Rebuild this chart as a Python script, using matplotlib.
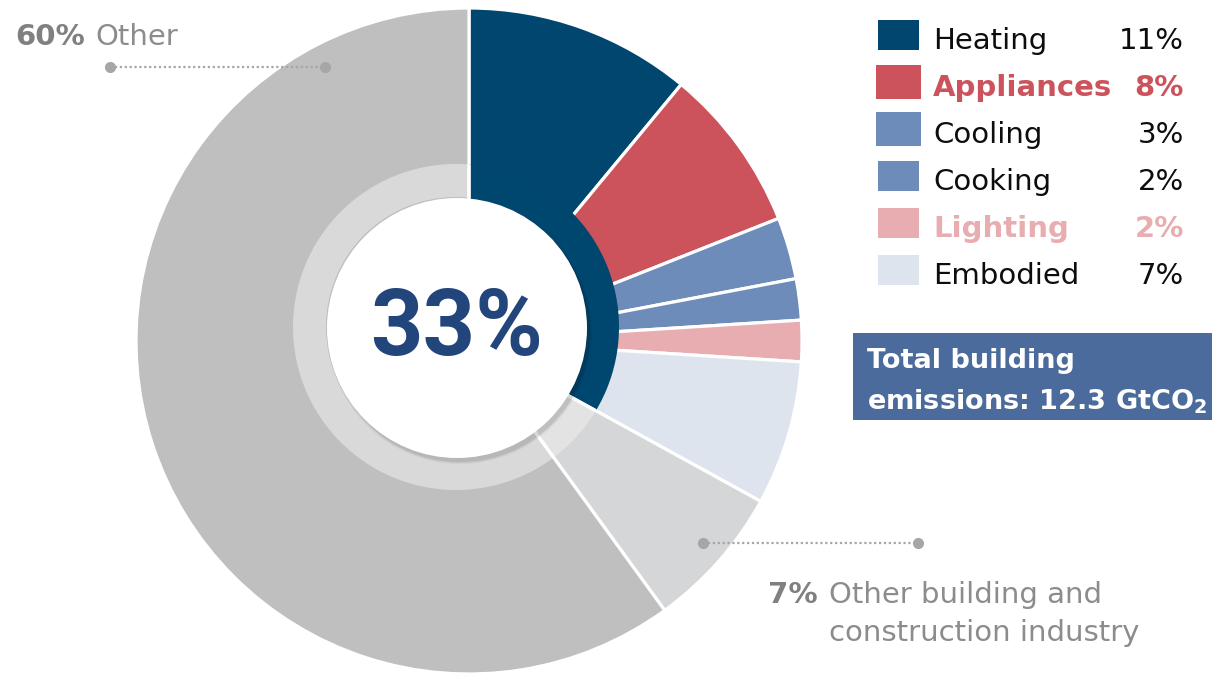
import matplotlib
matplotlib.use("Agg")
import matplotlib.pyplot as plt
from matplotlib.patches import Circle, Rectangle, Wedge

# Global buildings & construction share of energy-related emissions (%)
categories = ["Heating", "Appliances", "Cooling", "Cooking", "Lighting", "Embodied",
              "Other building and\nconstruction industry", "Other"]
shares = [11, 8, 3, 2, 2, 7, 7, 60]
colors = ["#00466f", "#cc535b", "#6d8cb9", "#6d8cb9", "#e8adb1", "#dee4ee",
          "#d5d6d7", "#bfbfbf"]
legend_bold = [False, True, False, False, True, False]
total_label = "Total building\nemissions: 12.3 GtCO$\\mathregular{_2}$"

W, H = 1212, 673


def py(y):
    # pixel rows are counted from the top
    return H - y


plt.rcParams["font.family"] = ["DejaVu Sans"]
fig = plt.figure(figsize=(W / 100, H / 100), dpi=100)
ax = fig.add_axes([0, 0, 1, 1])

center = (469, py(341))
radius = 333

# outer pie with white separators
ax.pie(shares, colors=colors, startangle=90, counterclock=False,
       center=center, radius=radius, frame=True,
       wedgeprops=dict(edgecolor="white", linewidth=2.3, zorder=1))

# inner band: same sector angles as the pie, cut to a slightly offset annulus
n_ops = 6
ops_share = sum(shares[:n_ops])
ring_vals = [ops_share, shares[6], shares[7]]
ring_center = (456, py(327))
band = Wedge(ring_center, 163, 0, 360, width=33)
band.set_transform(ax.transData)

fills, _ = ax.pie(ring_vals, colors=["#00476f", "#e3e3e3", "#d9d9d9"], startangle=90,
                  counterclock=False, center=center, radius=radius, frame=True,
                  wedgeprops=dict(linewidth=0, zorder=2))
seps, _ = ax.pie(ring_vals, startangle=90, counterclock=False, center=center,
                 radius=radius, frame=True,
                 wedgeprops=dict(facecolor="none", edgecolor="white", linewidth=2.3,
                                 zorder=3))
for w in list(fills) + list(seps):
    w.set_clip_on(True)
    w.set_clip_path(band)

# soft shadow and the white hole
hole = (457, py(328))
for i, a in enumerate([0.04, 0.05, 0.07]):
    ax.add_patch(Circle((hole[0] + 3, hole[1] - 4), 132 - i,
                        facecolor="black", edgecolor="none", alpha=a, zorder=4))
ax.add_patch(Circle(hole, 130, facecolor="white", edgecolor="none", zorder=5))
ax.text(hole[0], py(330), f"{ops_share}%", ha="center", va="center",
        fontsize=66, fontweight="bold", color="#22467c",
        family=["Roboto", "DejaVu Sans"], zorder=6)

# legend
row_y = [35, 82, 129, 176, 223, 270]
box_sz = [(41, 30), (45, 34), (45, 34), (41, 30), (41, 30), (41, 30)]
for i in range(n_ops):
    w, h = box_sz[i]
    ax.add_patch(Rectangle((898.5 - w / 2, py(row_y[i]) - h / 2), w, h,
                           facecolor=colors[i], edgecolor="none"))
    bold = legend_bold[i]
    tcol = colors[i] if bold else "#0d0d0d"
    ax.text(933, py(row_y[i] + 14), categories[i], fontsize=21, color=tcol,
            fontweight="bold" if bold else "normal", va="baseline", ha="left")
    ax.text(1184, py(row_y[i] + 14), f"{shares[i]}%", fontsize=21, color=tcol,
            fontweight="bold" if bold else "normal", va="baseline", ha="right")

# total emissions box
ax.add_patch(Rectangle((853, py(420)), W - 853, 87, facecolor="#4a6b9b",
                       edgecolor="none"))
box_lines = total_label.split("\n")
ax.text(867, py(368), box_lines[0], fontsize=19.5, fontweight="bold",
        color="white", va="baseline")
ax.text(867, py(410), box_lines[1], fontsize=19.5, fontweight="bold",
        color="white", va="baseline")

# callouts
grey_txt = "#8c8c8c"
dot_col = "#a6a6a6"
ax.plot([110, 325], [py(67), py(67)], color=dot_col, lw=1.6, ls=(0, (1, 1.2)),
        marker="o", ms=7, zorder=7)
ax.text(15, py(45), f"{shares[7]}%", fontsize=21, fontweight="bold", color="#808080",
        va="baseline")
ax.text(95, py(45), categories[7], fontsize=21, color=grey_txt, va="baseline")

ax.plot([703, 918], [py(543), py(543)], color=dot_col, lw=1.6, ls=(0, (1, 1.2)),
        marker="o", ms=7, zorder=7)
ax.text(768, py(603), f"{shares[6]}%", fontsize=21, fontweight="bold", color="#808080",
        va="baseline")
line1, line2 = categories[6].split("\n")
ax.text(829, py(603), line1, fontsize=21, color=grey_txt, va="baseline")
ax.text(829, py(641), line2, fontsize=21, color=grey_txt, va="baseline")

ax.set_xlim(0, W)
ax.set_ylim(0, H)
ax.set_aspect("equal")
ax.axis("off")

fig.savefig("out.png", dpi=100)
